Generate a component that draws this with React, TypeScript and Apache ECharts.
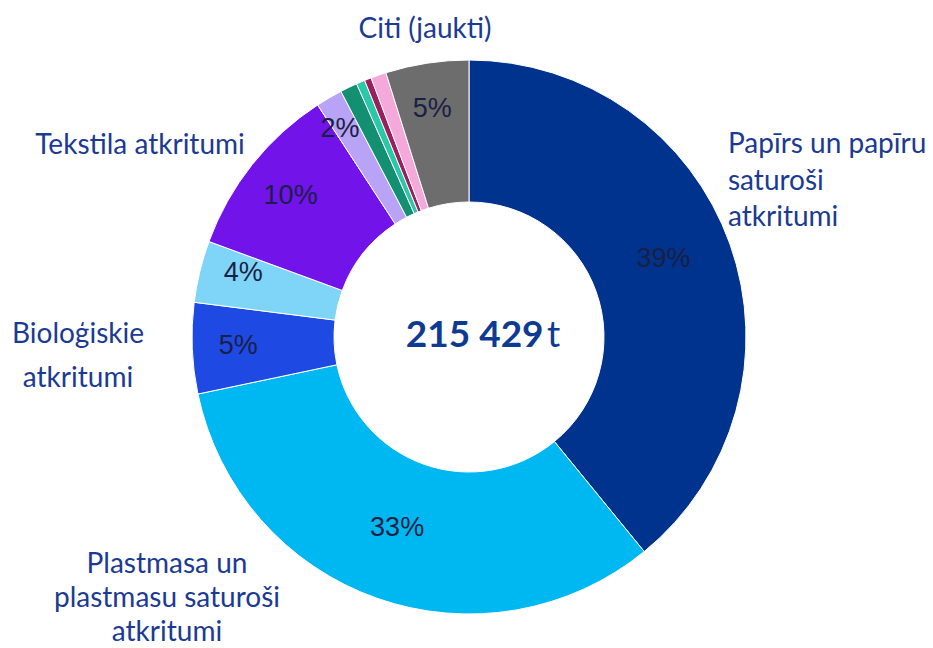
import React, { useEffect, useRef } from 'react';
import * as echarts from 'echarts';

// Categories (clockwise from 12 o'clock)
const categories = [
  'Papīrs un papīru saturoši atkritumi',
  'Plastmasa un plastmasu saturoši atkritumi',
  'Bioloģiskie atkritumi',
  'Stikla atkritumi',
  'Tekstila atkritumi',
  'Koka atkritumi',
  'Metāla atkritumi',
  'Kompozītmateriāli',
  'Gumija',
  'Citi materiāli',
  'Citi (jaukti)',
];
// Share of total, %
const shares = [39.1, 32.6, 5.3, 3.6, 10.2, 1.55, 1.0, 0.5, 0.4, 0.9, 4.85];
const showPercent = [true, true, true, true, true, true, false, false, false, false, true];
const totalText = '215 429';
const unitText = 't';

// outside name labels (only named slices)
const nameLabels = [
  { text: 'Papīrs un papīru\nsaturoši\natkritumi', x: 728, y: 124, align: 'left', lh: 36.5 },
  { text: 'Plastmasa un\nplastmasu saturoši\natkritumi', x: 167, y: 545, align: 'center', lh: 34 },
  { text: 'Bioloģiskie\natkritumi', x: 78, y: 310, align: 'center', lh: 44 },
  { text: 'Tekstila atkritumi', x: 140, y: 125, align: 'center', lh: 36 },
  { text: 'Citi (jaukti)', x: 425, y: 9, align: 'center', lh: 36 },
];

const colors = [
  '#00338D', '#00B8F1', '#1E49E2', '#7FD5F8', '#7213EA', '#B8A3F6',
  '#138F72', '#2BC7A9', '#9B1E5E', '#F5A8DA', '#6D6D6D',
];

const CX = 469;
const CY = 337;
const R0 = 135;
const R1 = 277;
const labelRadius = [210, 203, 231, 235, 228, 246, 206, 206, 206, 206, 232];
const labelAngleShift = [-2.5, 1.3, 0.3, 2.4, 0, -1.3, 0, 0, 0, 0, -0.4];

export default function App() {
  const ref = useRef<HTMLDivElement>(null);
  useEffect(() => {
    if (!ref.current) return;
    const chart = echarts.init(ref.current, null, { renderer: 'svg' });
    const total = shares.reduce((a, b) => a + b, 0);
    const mids: number[] = [];
    let acc = 0;
    shares.forEach((v) => {
      mids.push(((acc + v / 2) / total) * 360);
      acc += v;
    });
    const nameColor = '#1B3A94';
    chart.setOption({
      animation: false,
      backgroundColor: '#ffffff',
      series: [
        {
          type: 'pie',
          center: [CX, CY],
          radius: [R0, R1],
          startAngle: 90,
          clockwise: true,
          avoidLabelOverlap: false,
          itemStyle: { borderColor: '#ffffff', borderWidth: 1 },
          label: {
            show: true,
            position: 'inside',
            formatter: (p: any) => Math.round((p.value / total) * 100 + 1e-6) + '%',
            fontFamily: 'Liberation Sans, Arial, sans-serif',
            fontSize: 27,
            color: '#1a1f44',
          },
          labelLine: { show: false },
          emphasis: { disabled: true },
          labelLayout: (params: any) => {
            const i = params.dataIndex;
            const a = ((mids[i] + labelAngleShift[i]) * Math.PI) / 180;
            return {
              x: CX + labelRadius[i] * Math.sin(a),
              y: CY - labelRadius[i] * Math.cos(a),
              align: 'center',
              verticalAlign: 'middle',
            };
          },
          data: categories.map((name, i) => ({
            name,
            value: shares[i],
            itemStyle: { color: colors[i] },
            label: { show: showPercent[i] },
          })),
        },
      ],
      graphic: [
        ...nameLabels.map((l) => ({
          type: 'text',
          x: l.x,
          y: l.y,
          style: {
            text: l.text,
            fill: nameColor,
            font: '28px Lato, sans-serif',
            align: l.align,
            verticalAlign: 'top',
            lineHeight: l.lh,
          },
        })),
        {
          type: 'text',
          x: 483,
          y: 332,
          style: {
            text: `{b|${totalText}} {n|${unitText}}`,
            align: 'center',
            verticalAlign: 'middle',
            rich: {
              b: { fontFamily: 'Lato, sans-serif', fontWeight: 'bold', fontSize: 37, fill: '#0E3A92' },
              n: { fontFamily: 'Lato, sans-serif', fontWeight: 'normal', fontSize: 37, fill: '#0E3A92' },
            },
          },
        },
      ],
    });
    return () => chart.dispose();
  }, []);
  return (
    <div
      ref={ref}
      style={{ position: 'absolute', left: 0, top: 0, width: 933, height: 648 }}
    />
  );
}
